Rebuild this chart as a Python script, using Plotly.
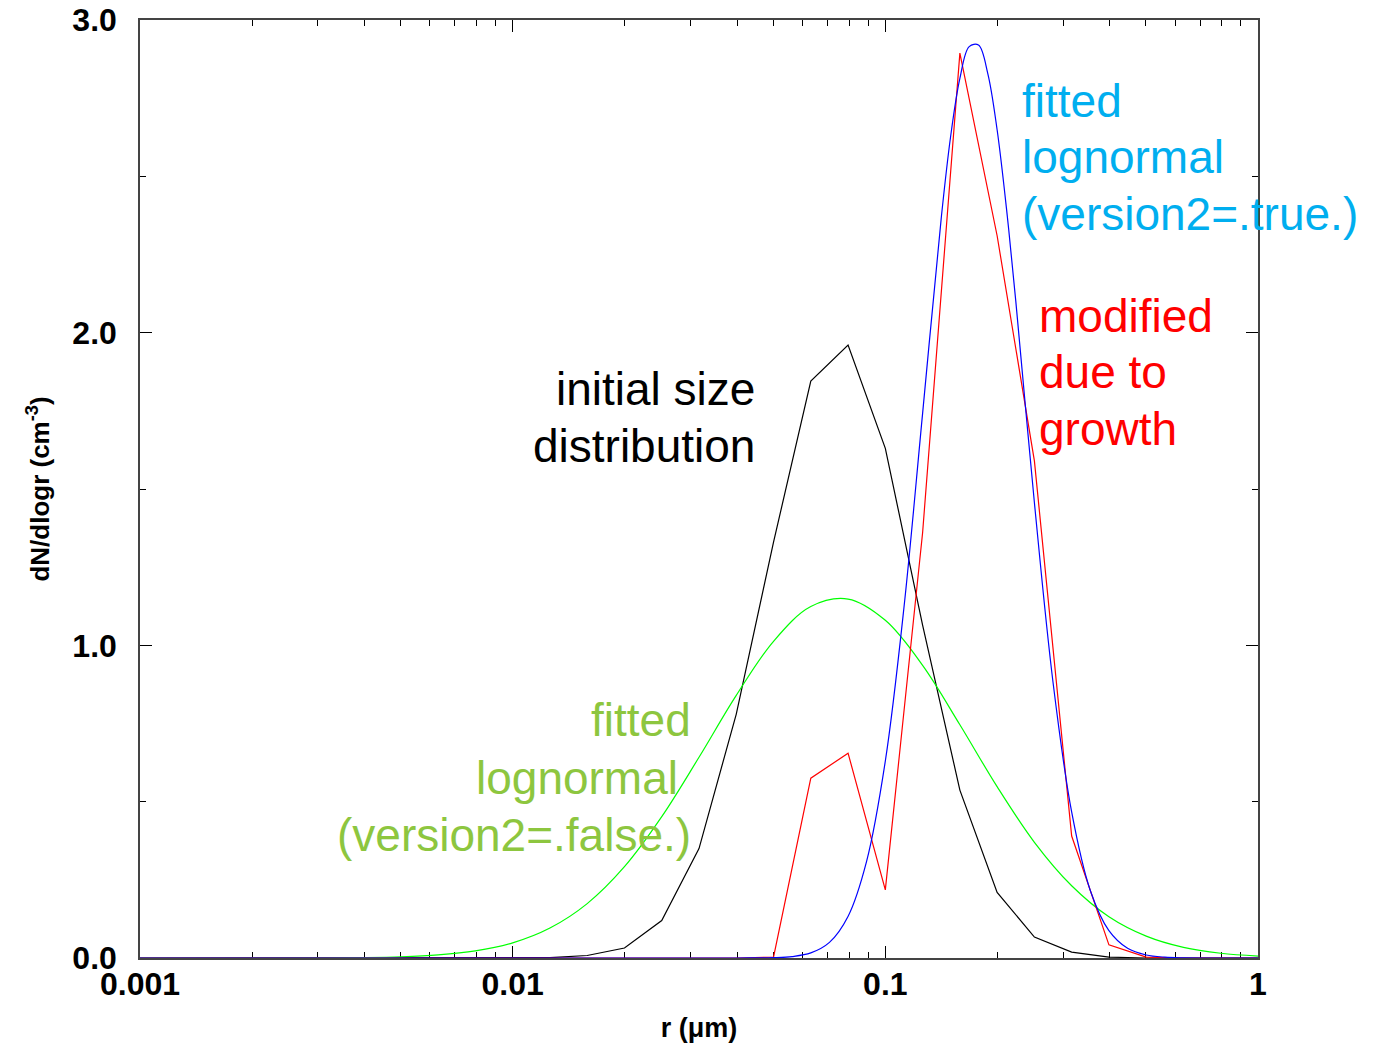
import plotly.graph_objects as go

# ---- data ----
# bin radii (um) for the discrete distributions: 10^(k/10)
bin_r = [10 ** (k / 10) for k in range(-30, 1)]
initial_dist = [0, 0, 0, 0, 0, 0, 0, 0, 0, 0,
                0, 0.001, 0.008, 0.032, 0.12, 0.35, 0.78, 1.33, 1.845, 1.96,
                1.63, 1.065, 0.537, 0.21, 0.067, 0.019, 0.003, 0, 0, 0, 0]
modified_dist = [0, 0, 0, 0, 0, 0, 0, 0, 0, 0,
                 0, 0, 0, 0, 0, 0, 0, 0.003, 0.575, 0.655,
                 0.218, 1.36, 2.894, 2.31, 1.59, 0.39, 0.042, 0.003, 0, 0, 0]

# fitted lognormal (version2=.true.), sampled from the curve
fit_true_r = [0.001, 0.01, 0.0316, 0.0398, 0.0447, 0.0501, 0.0562, 0.0631, 0.0708,
              0.0794, 0.0891, 0.1, 0.1122, 0.1259, 0.1413, 0.1496, 0.1585, 0.1679,
              0.1778, 0.1884, 0.1995, 0.2113, 0.2239, 0.2512, 0.2818, 0.3162,
              0.3548, 0.3981, 0.4467, 0.5012, 0.5623, 0.631, 0.7943, 1.0]
fit_true_v = [0, 0, 0, 0, 0.0003, 0.0012, 0.0047, 0.0163, 0.050,
              0.133, 0.310, 0.630, 1.121, 1.742, 2.368, 2.625, 2.813, 2.915,
              2.920, 2.828, 2.649, 2.399, 2.101, 1.456, 0.882, 0.467,
              0.216, 0.0875, 0.031, 0.0096, 0.0026, 0.0006, 0, 0]

# fitted lognormal (version2=.false.), sampled from the curve
fit_false_r = [0.001, 0.002, 0.00316, 0.00398, 0.00501, 0.00631, 0.00794, 0.01,
               0.01259, 0.01585, 0.01995, 0.02512, 0.03162, 0.03981, 0.05012,
               0.0631, 0.07943, 0.1, 0.1259, 0.1585, 0.1995, 0.2512, 0.3162,
               0.3981, 0.5012, 0.631, 0.7943, 1.0]
fit_false_v = [0, 0, 0.00046, 0.0014, 0.0038, 0.0097, 0.0226, 0.0484,
               0.0958, 0.174, 0.292, 0.452, 0.642, 0.840, 1.013,
               1.124, 1.148, 1.080, 0.936, 0.746, 0.548, 0.370, 0.231,
               0.132, 0.070, 0.034, 0.0152, 0.0063]

x_tickvals = [0.001, 0.01, 0.1, 1]
x_ticktext = ["0.001", "0.01", "0.1", "1"]
x_minor = [m * 10 ** e for e in (-3, -2, -1) for m in range(2, 10)]
y_tickvals = [0, 1, 2, 3]
y_ticktext = ["0.0", "1.0", "2.0", "3.0"]

FONT = "Liberation Sans, Arial, Helvetica, sans-serif"

fig = go.Figure()
fig.add_trace(go.Scatter(x=bin_r, y=initial_dist, mode="lines",
                         line=dict(color="black", width=1.2)))
fig.add_trace(go.Scatter(x=fit_false_r, y=fit_false_v, mode="lines",
                         line=dict(color="#00FF00", width=1.2, shape="spline")))
fig.add_trace(go.Scatter(x=bin_r, y=modified_dist, mode="lines",
                         line=dict(color="#FF0000", width=1.2)))
fig.add_trace(go.Scatter(x=fit_true_r, y=fit_true_v, mode="lines",
                         line=dict(color="#0000FF", width=1.2, shape="spline")))

labels = [
    # text, x(paper), y(paper), anchor, color
    ("initial size", 0.5519, 0.6066, "right", "black"),
    ("distribution", 0.5519, 0.5458, "right", "black"),
    ("fitted", 0.7875, 0.9136, "left", "#00AEEF"),
    ("lognormal", 0.7875, 0.8539, "left", "#00AEEF"),
    ("(version2=.true.)", 0.7875, 0.7932, "left", "#00AEEF"),
    ("modified", 0.8020, 0.6844, "left", "#FF0000"),
    ("due to", 0.8020, 0.6247, "left", "#FF0000"),
    ("growth", 0.8020, 0.5640, "left", "#FF0000"),
    ("fitted", 0.4946, 0.2537, "right", "#8DC63F"),
    ("lognormal ", 0.4946, 0.1919, "right", "#8DC63F"),
    ("(version2=.false.)", 0.4946, 0.1311, "right", "#8DC63F"),
]
for t, x, y, anc, col in labels:
    fig.add_annotation(text=t, x=x, y=y, xref="paper", yref="paper",
                       xanchor=anc, yanchor="middle", showarrow=False,
                       font=dict(family=FONT, size=46, color=col))

fig.update_layout(
    width=1379, height=1051,
    margin=dict(l=140, r=121, t=20, b=93, autoexpand=False),
    paper_bgcolor="white", plot_bgcolor="white",
    showlegend=False,
    font=dict(family=FONT, color="black"),
)
fig.update_xaxes(
    type="log", range=[-3, 0], automargin=False,
    tickvals=x_tickvals, ticktext=x_ticktext,
    ticks="inside", ticklen=12, tickwidth=1, tickcolor="black",
    minor=dict(tickvals=x_minor, ticks="inside", ticklen=6, tickwidth=1, tickcolor="black"),
    showline=True, linecolor="#444", linewidth=1.5, mirror="ticks",
    showgrid=False, zeroline=False,
    tickfont=dict(family=FONT, size=32, color="black", weight="bold"),
    ticklabelstandoff=-3, ticklabeloverflow="allow",
    title=dict(text="r (\u03bcm)", font=dict(family=FONT, size=27, color="black", weight="bold"),
               standoff=17),
    layer="below traces",
)
fig.update_yaxes(
    range=[0, 3], automargin=False,
    tickvals=y_tickvals, ticktext=y_ticktext,
    ticks="inside", ticklen=12, tickwidth=1, tickcolor="black",
    minor=dict(dtick=0.5, ticks="inside", ticklen=6, tickwidth=1, tickcolor="black"),
    showline=True, linecolor="#444", linewidth=1.5, mirror="ticks",
    showgrid=False, zeroline=False,
    tickfont=dict(family=FONT, size=32, color="black", weight="bold"),
    ticklabelstandoff=15, ticklabeloverflow="allow",
    title=dict(text="dN/dlogr (cm<sup>-3</sup>)",
               font=dict(family=FONT, size=26, color="black", weight="bold"),
               standoff=15),
    layer="below traces",
)

fig.write_html("out.html",
               config={"displayModeBar": False},
               post_script="document.body.style.margin='0';document.body.style.overflow='hidden';")
